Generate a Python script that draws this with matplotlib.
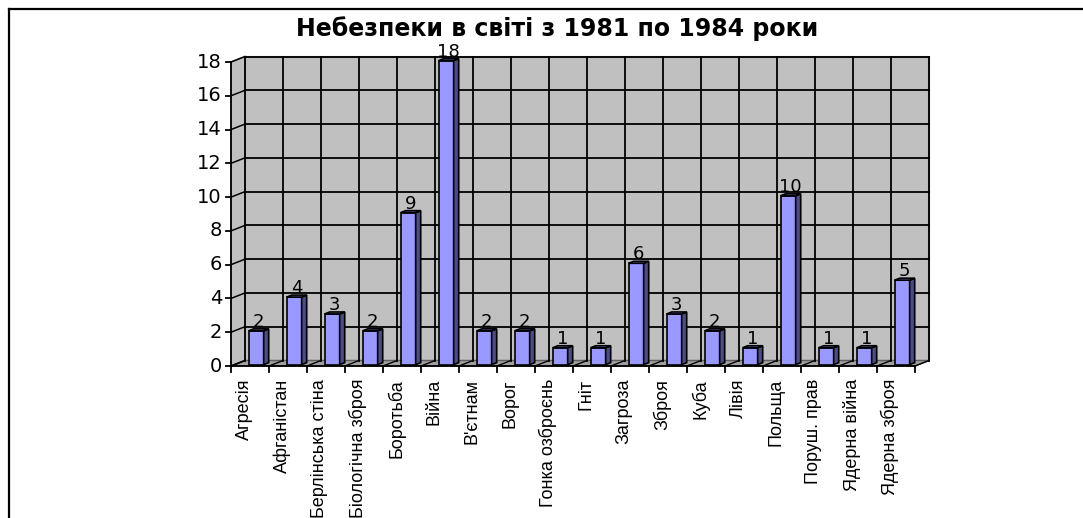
import numpy as np
import matplotlib
matplotlib.use('Agg')
import matplotlib.pyplot as plt
from matplotlib.patches import Polygon
from matplotlib.lines import Line2D

plt.rcParams['font.family'] = ['DejaVu Sans']

title = 'Небезпеки в світі з 1981 по 1984 роки'
categories = ['Агресія', 'Афганістан', 'Берлінська стіна', 'Біологічна зброя',
              'Боротьба', 'Війна', 'В\'єтнам', 'Ворог', 'Гонка озброєнь', 'Гніт',
              'Загроза', 'Зброя', 'Куба', 'Лівія', 'Польща', 'Поруш. прав',
              'Ядерна війна', 'Ядерна зброя']
values = [2, 4, 3, 2, 9, 18, 2, 2, 1, 1, 6, 3, 2, 1, 10, 1, 1, 5]
yticks = np.arange(0, 19, 2)

W, H = 1083, 518
# pixel geometry of the front plane
x0_px, cat_px = 231, 38.0
y0_px, top_px = 366, 62
py = (y0_px - top_px) / 18.0

fig = plt.figure(figsize=(W / 100, H / 100), dpi=100)
ax = fig.add_axes([0, 0, 1, 1])
ax.set_xlim(-0.5 - x0_px / cat_px, -0.5 + (W - x0_px) / cat_px)
ax.set_ylim(-(H - y0_px) / py, y0_px / py)
ax.axis('off')

n = len(categories)
DX, DY = 14 / cat_px, 5.5 / py      # depth of the plot box
xl, xr = -0.5, n - 0.5
ymax = 18

wall = '#c0c0c0'
# back wall
ax.add_patch(Polygon([(xl + DX, DY), (xr + DX, DY), (xr + DX, ymax + DY), (xl + DX, ymax + DY)],
                     closed=True, fc=wall, ec='#808080', lw=1.5, zorder=1))
# side wall
ax.add_patch(Polygon([(xl, 0), (xl + DX, DY), (xl + DX, ymax + DY), (xl, ymax)],
                     closed=True, fc=wall, ec='#808080', lw=1, zorder=1))
# floor
ax.add_patch(Polygon([(xl, 0), (xr, 0), (xr + DX, DY), (xl + DX, DY)],
                     closed=True, fc='#a0a0a0', ec='#606060', lw=1, zorder=1))

# grid on walls
for v in yticks[1:]:
    ax.plot([xl + DX, xr + DX], [v + DY, v + DY], color='black', lw=1.3, zorder=2)
for v in yticks:
    ax.plot([xl, xl + DX], [v, v + DY], color='black', lw=1.1, zorder=2)
for k in range(n + 1):
    ax.plot([k - 0.5 + DX, k - 0.5 + DX], [DY, ymax + DY], color='black', lw=1.3, zorder=2)
    ax.plot([k - 0.5, k - 0.5 + DX], [0, DY], color='black', lw=1.0, zorder=2)

# bars
a, d = 0.25, 0.36
bw = 15 / cat_px
xs = np.arange(n) + a * DX + 0.07
bars = ax.bar(xs, values, width=bw, bottom=a * DY, color='#9999ff',
              edgecolor='black', linewidth=1.2, zorder=5)
for x, v in zip(xs, values):
    l, r = x - bw / 2, x + bw / 2
    b, t = a * DY, v + a * DY
    ax.add_patch(Polygon([(r, b), (r + d * DX, b + d * DY), (r + d * DX, t + d * DY), (r, t)],
                         closed=True, fc='#4d4d80', ec='black', lw=1.2, zorder=5))
    ax.add_patch(Polygon([(l, t), (r, t), (r + d * DX, t + d * DY), (l + d * DX, t + d * DY)],
                         closed=True, fc='#8080d8', ec='black', lw=1.2, zorder=5))
    ax.text(x + d * DX / 2, t + d * DY + 0.12, str(v), ha='center', va='baseline',
            fontsize=13, zorder=6)

# front axes
ax.plot([xl, xl], [0, ymax], color='black', lw=1.3, zorder=4)
ax.plot([xl, xr], [0, 0], color='black', lw=1.3, zorder=4)
tick_l = 5 / cat_px
for v in yticks:
    ax.plot([xl - tick_l, xl], [v, v], color='black', lw=1.3, zorder=4)
    ax.text(xl - 9 / cat_px, v, str(v), ha='right', va='center', fontsize=14)
for k in range(n + 1):
    ax.plot([k - 0.5, k - 0.5], [0, -6 / py], color='black', lw=1.3, zorder=4)

for i, c in enumerate(categories):
    ax.text(i - 6 / cat_px, -13 / py, c, rotation=90, ha='center', va='top',
            fontsize=13,
            family=['Liberation Sans Narrow', 'DejaVu Sans Condensed', 'Liberation Sans'])

fig.text(557 / W, 1 - 29 / H, title, ha='center', va='center',
         fontsize=17, fontweight='bold')

# chart border
fig.add_artist(Line2D([9 / W, 1], [1 - 9 / H, 1 - 9 / H], color='black', lw=1.6))
fig.add_artist(Line2D([9 / W, 9 / W], [0, 1 - 9 / H], color='black', lw=1.6))

fig.savefig('out.png', dpi=100)
